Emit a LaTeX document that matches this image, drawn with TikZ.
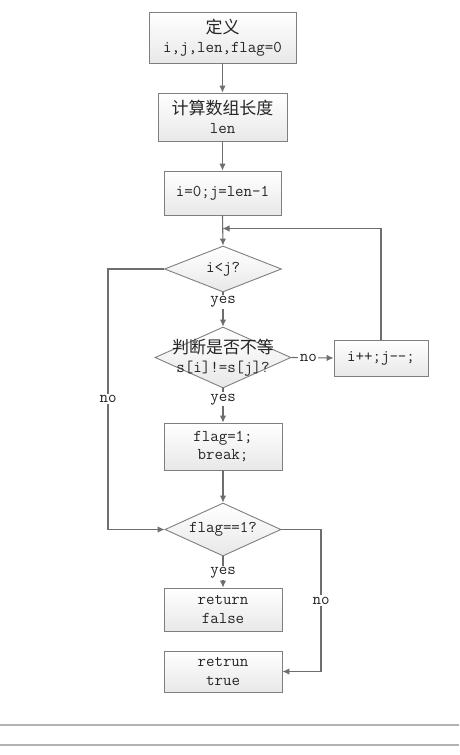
\documentclass[tikz,border=0pt]{standalone}
\usepackage{fontspec}
\newfontfamily\cjk[Scale=1.03]{Noto Sans CJK SC}
\usetikzlibrary{shapes.geometric,arrows.meta,calc}
\definecolor{edge}{HTML}{7F7F7F}
\definecolor{wire}{HTML}{6E6E6E}
\definecolor{ink}{HTML}{262626}
\tikzset{
  x=1pt, y=-1pt,
  every node/.style={font=\ttfamily\fontsize{16.5}{18.5}\selectfont, text=ink},
  procbox/.style={draw=edge, line width=0.9pt, top color=white, bottom color=black!9, inner sep=0pt, align=center},
  dia/.style={diamond, draw=edge, line width=0.9pt, top color=white, bottom color=black!9, inner sep=0pt, aspect=2.5},
  lab/.style={align=center, inner sep=0pt, font=\ttfamily\fontsize{16.5}{18.5}\selectfont, text=ink},
  arr/.style={draw=wire, line width=1.1pt, -{Latex[length=7pt,width=6.5pt]}},
  tag/.style={fill=white, inner sep=1.5pt}
}
\begin{document}
\begin{tikzpicture}
\useasboundingbox (0,0) rectangle (459,755);
\fill[white] (0,0) rectangle (459,755);
% boxes
\node[procbox, minimum width=147, minimum height=51] (b1) at (222.5,37.5) {{\cjk 定义}\\i,j,len,flag=0};
\node[procbox, minimum width=129, minimum height=48] (b2) at (222.5,117) {{\cjk 计算数组长度}\\len};
\node[procbox, minimum width=117, minimum height=44] (b3) at (222.5,193) {i=0;j=len-1};
\node[dia, minimum width=117, minimum height=46, label={[lab]center:i<j?}] (d1) at (223,269) {};
\node[dia, minimum width=136, minimum height=61, label={[lab]center:{{\cjk 判断是否不等}\\s[i]!=s[j]?}}] (d2) at (223,357.5) {};
\node[procbox, minimum width=94, minimum height=36] (inc) at (381,358) {i++;j-{}-;};
\node[procbox, minimum width=118, minimum height=47] (b5) at (223,446.5) {flag=1;\\break;};
\node[dia, minimum width=116, minimum height=53, label={[lab]center:flag==1?}] (d3) at (223,529.5) {};
\node[procbox, minimum width=118, minimum height=43] (r1) at (223,609.5) {return\\false};
\node[procbox, minimum width=118, minimum height=41] (r2) at (223,671.5) {retrun\\true};
% connectors
\draw[arr] (b1.south) -- (b2.north);
\draw[arr] (b2.south) -- (b3.north);
\draw[arr] (b3.south) -- (d1.north);
\coordinate (join) at (b3.south |- 0,228.5);
\draw[arr] (inc.north) |- (join);
\draw[arr] (d1.south) -- node[tag, pos=0.27]{yes} (d2.north);
\draw[arr] (d2.east) -- node[tag, pos=0.4]{no} (inc.west);
\draw[arr] (d2.south) -- node[tag, pos=0.32]{yes} (b5.north);
\draw[arr] (b5.south) -- (d3.north);
\coordinate (lft) at (108,269);
\coordinate (lftb) at (108,529.5);
\draw[arr] (d1.west) -- (lft) -- node[tag, pos=0.5]{no} (lftb) -- (d3.west);
\draw[arr] (d3.south) -- node[tag, pos=0.52]{yes} (r1.north);
\coordinate (rgt) at (321,529.5);
\coordinate (rgtb) at (321,671.5);
\draw[arr] (d3.east) -- (rgt) -- node[tag, pos=0.5]{no} (rgtb) -- (r2.east);
% bottom rules
\draw[black!30, line width=1.2pt] (0,725) -- (459,725);
\draw[black!30, line width=1.2pt] (0,745) -- (459,745);
\end{tikzpicture}
\end{document}
